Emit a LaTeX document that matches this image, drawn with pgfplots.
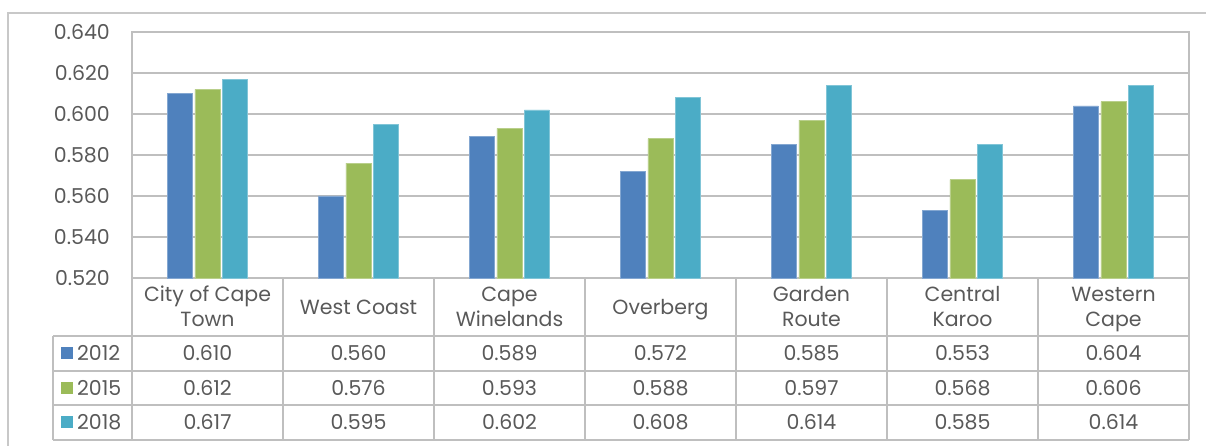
\documentclass[border=0pt]{standalone}
\usepackage{pgfplots}
\pgfplotsset{compat=1.18}
\usepackage{pgfplotstable}
\usepackage{fontspec}
\setmainfont{Poppins}

\definecolor{c2012}{RGB}{79,129,189}
\definecolor{c2015}{RGB}{155,187,89}
\definecolor{c2018}{RGB}{75,172,198}
\definecolor{rulegray}{RGB}{191,191,191}
\definecolor{framegray}{RGB}{200,200,200}
\definecolor{txt}{RGB}{89,89,89}

\pgfkeys{/pgf/number format/assume math mode=true}

% Human Development Index by district
\pgfplotstableread{
x  y12   y15   y18
0  0.610 0.612 0.617
1  0.560 0.576 0.595
2  0.589 0.593 0.602
3  0.572 0.588 0.608
4  0.585 0.597 0.614
5  0.553 0.568 0.585
6  0.604 0.606 0.614
}\hdi

\newcommand{\tfont}{\fontsize{20.5}{25}\selectfont\color{txt}}

\begin{document}
\begin{tikzpicture}
\useasboundingbox (0pt,0pt) rectangle (1206pt,446pt);

\begin{axis}[
  at={(132pt,168pt)}, anchor=south west,
  width=1057pt, height=246pt, scale only axis,
  xmin=-0.5, xmax=6.5, ymin=0.52, ymax=0.64,
  ytick={0.52,0.54,0.56,0.58,0.60,0.62,0.64},
  xtick=\empty,
  ymajorgrids,
  grid style={rulegray, line width=1.8pt},
  axis line style={rulegray, line width=1.8pt},
  major tick length=0pt,
  yticklabel style={font=\tfont, anchor=east, inner sep=0pt, xshift=-22pt,
    /pgf/number format/.cd, fixed, fixed zerofill, precision=3},
  ybar=2.5pt, bar width=25pt,
  clip=false,
]
\addplot[fill=c2012, draw=c2012!70!white, line width=0.5pt] table[x=x, y=y12] {\hdi};
\addplot[fill=c2015, draw=c2015!70!white, line width=0.5pt] table[x=x, y=y15] {\hdi};
\addplot[fill=c2018, draw=c2018!70!white, line width=0.5pt] table[x=x, y=y18] {\hdi};
\end{axis}

\begin{scope}[x=1pt, y=1pt]
% outer frame
\draw[framegray, line width=1.6pt] (8,0) -- (8,433) -- (1206,433);

% data table below the plot
\begin{scope}[rulegray, line width=1.8pt]
  \draw (53,110) -- (1189,110);
  \draw (53,75) -- (1189,75);
  \draw (53,41) -- (1189,41);
  \draw (53,6) -- (1189,6);
  \draw (53,110) -- (53,6);
  \draw (132,168) -- (132,6);
  \foreach \k in {1,...,7} \draw ({132+151*\k},168) -- ({132+151*\k},6);
\end{scope}

\foreach \i/\name in {0/{\strut City of Cape\\\strut Town}, 1/{\strut West Coast},
    2/{\strut Cape\\\strut Winelands}, 3/{\strut Overberg}, 4/{\strut Garden\\\strut Route},
    5/{\strut Central\\\strut Karoo}, 6/{\strut Western\\\strut Cape}}
  \node[font=\tfont, align=center, inner sep=0pt] at ({132+151*(\i+0.5)},136.5) {\name};

\foreach \col/\yr/\cc/\yy in {y12/2012/c2012/93, y15/2015/c2015/58, y18/2018/c2018/24} {
  \fill[\cc] (61,{\yy-6}) rectangle (73,{\yy+6});
  \node[font=\tfont, anchor=west, inner sep=0pt] at (77,\yy) {\yr};
  \foreach \i in {0,...,6} {
    \pgfplotstablegetelem{\i}{\col}\of\hdi
    \node[font=\tfont, inner sep=0pt] at ({132+151*(\i+0.5)},\yy)
      {\pgfmathprintnumber[fixed, fixed zerofill, precision=3]{\pgfplotsretval}};
  }
}
\end{scope}
\end{tikzpicture}
\end{document}
